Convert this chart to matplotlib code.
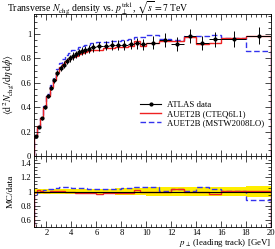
import numpy as np
import matplotlib
matplotlib.use("Agg")
import matplotlib.pyplot as plt
from matplotlib.lines import Line2D
from matplotlib.ticker import MultipleLocator, AutoMinorLocator

plt.rcParams["font.family"] = ["Liberation Serif", "DejaVu Serif"]
plt.rcParams["mathtext.fontset"] = "stix"

# ---- data ----
edges = [1.0, 1.25, 1.5, 1.75, 2.0, 2.25, 2.5, 2.75, 3.0, 3.25, 3.5, 3.75, 4.0, 4.25,
         4.5, 4.75, 5.0, 5.25, 5.5, 6.0, 6.5, 7.0, 7.5, 8.0, 8.5, 9.0, 9.5, 10.0,
         11.0, 12.0, 13.0, 14.0, 15.0, 16.0, 18.0, 20.0]
data = [0.165, 0.24, 0.31, 0.40, 0.49, 0.56, 0.62, 0.68, 0.72, 0.75, 0.78, 0.80, 0.82,
        0.835, 0.85, 0.86, 0.87, 0.875,
        0.89, 0.90, 0.905, 0.91, 0.91, 0.91, 0.915, 0.924, 0.915,
        0.929, 0.951, 0.918, 0.984, 0.929, 0.957, 0.957, 0.984]
data_err = [0.006, 0.008, 0.011, 0.014, 0.017, 0.02, 0.022, 0.024, 0.025, 0.026, 0.027,
            0.028, 0.029, 0.029, 0.03, 0.03, 0.031, 0.031,
            0.035, 0.036, 0.037, 0.038, 0.039, 0.04, 0.042, 0.044, 0.046,
            0.055, 0.057, 0.058, 0.06, 0.058, 0.062, 0.066, 0.07]
cteq = [0.163, 0.245, 0.312, 0.40, 0.49, 0.562, 0.625, 0.685, 0.727, 0.755, 0.78, 0.795,
        0.81, 0.822, 0.835, 0.843, 0.852, 0.857,
        0.868, 0.87, 0.883, 0.888, 0.89, 0.893, 0.898, 0.94, 0.905,
        0.929, 0.945, 0.945, 0.975, 0.92, 0.925, 0.965, 0.985]
mstw = [0.16, 0.24, 0.313, 0.408, 0.505, 0.582, 0.651, 0.714, 0.763, 0.795, 0.827, 0.848,
        0.865, 0.877, 0.893, 0.899, 0.909, 0.91,
        0.926, 0.936, 0.937, 0.942, 0.946, 0.951, 0.961, 0.979, 0.979,
        0.99, 0.955, 0.95, 0.985, 0.985, 0.99, 0.97, 0.86]

edges = np.array(edges); data = np.array(data); data_err = np.array(data_err)
cteq = np.array(cteq); mstw = np.array(mstw)
xc = 0.5 * (edges[1:] + edges[:-1])
xw = 0.5 * (edges[1:] - edges[:-1])

RED, BLUE = "#ee2222", "#3333ee"
fig = plt.figure(figsize=(2.75, 2.49), dpi=100)
L, W = 34 / 275, 237 / 275
ax = fig.add_axes([L, 1 - 156 / 249, W, 142 / 249])
rx = fig.add_axes([L, 1 - 227 / 249, W, 71 / 249], sharex=ax)

ax.stairs(mstw, edges, color=BLUE, lw=1.0, ls=(0, (4, 2)))
ax.stairs(cteq, edges, color=RED, lw=1.0)
ax.errorbar(xc, data, xerr=xw, yerr=data_err, fmt="o", color="k", ms=2.0, lw=0.7,
            capsize=0)
ax.set_xlim(1, 20)
ax.set_ylim(0, 1.164)

handles = [Line2D([], [], color="k", lw=0.8, marker="o", ms=2.0),
           Line2D([], [], color=RED, lw=1.0),
           Line2D([], [], color=BLUE, lw=1.0, ls=(0, (4, 2)))]
labels = ["ATLAS data", "AUET2B (CTEQ6L1)", "AUET2B (MSTW2008LO)"]
ax.legend(handles, labels, loc="upper left", bbox_to_anchor=(0.43, 0.42),
          frameon=False, fontsize=6.3, handlelength=2.4, handletextpad=0.6,
          labelspacing=0.1, borderpad=0)

fig.text(7 / 275, 1 - 12 / 249,
         r"Transverse $N_\mathrm{chg}$ density vs. $p_\perp^\mathrm{trk1}$, $\sqrt{s} = 7$ TeV",
         fontsize=7.0, ha="left", va="baseline")
ax.set_ylabel(r"$\langle \mathrm{d}^2 N_\mathrm{chg}/\mathrm{d}\eta\,\mathrm{d}\phi \rangle$",
              fontsize=7.2, labelpad=3)

# ---- ratio ----
rel = data_err / data
rx.stairs(1 + rel, edges, baseline=1 - rel, fill=True, color="#ffee00", lw=0)
rx.axhline(1, color="k", lw=0.8)
rx.stairs(mstw / data, edges, color=BLUE, lw=1.0, ls=(0, (4, 2)))
rx.stairs(cteq / data, edges, color=RED, lw=1.0)
rx.set_ylim(0.5, 1.5)
rx.set_ylabel("MC/data", fontsize=6.8, labelpad=4)
rx.set_xlabel(r"$p_\perp$ (leading track) [GeV]", fontsize=6.4, loc="right", labelpad=0)

for a in (ax, rx):
    a.xaxis.set_major_locator(MultipleLocator(2))
    a.xaxis.set_minor_locator(AutoMinorLocator(5))
    a.yaxis.set_major_locator(MultipleLocator(0.2))
    a.yaxis.set_minor_locator(AutoMinorLocator(4))
    a.tick_params(which="both", direction="in", top=True, right=True, labelsize=6.2,
                  width=0.5, pad=2)
    a.tick_params(which="major", length=4)
    a.tick_params(which="minor", length=2)
    for s in a.spines.values():
        s.set_linewidth(0.6)
ax.tick_params(labelbottom=False)
ax.yaxis.set_major_formatter(plt.FuncFormatter(lambda v, p: "%g" % round(v, 2)))
rx.yaxis.set_major_formatter(plt.FuncFormatter(lambda v, p: "%g" % round(v, 2)))
rx.set_yticks([0.6, 0.8, 1.0, 1.2, 1.4])
rx.tick_params(axis="x", pad=1.5)

fig.savefig("out.png", dpi=100)
